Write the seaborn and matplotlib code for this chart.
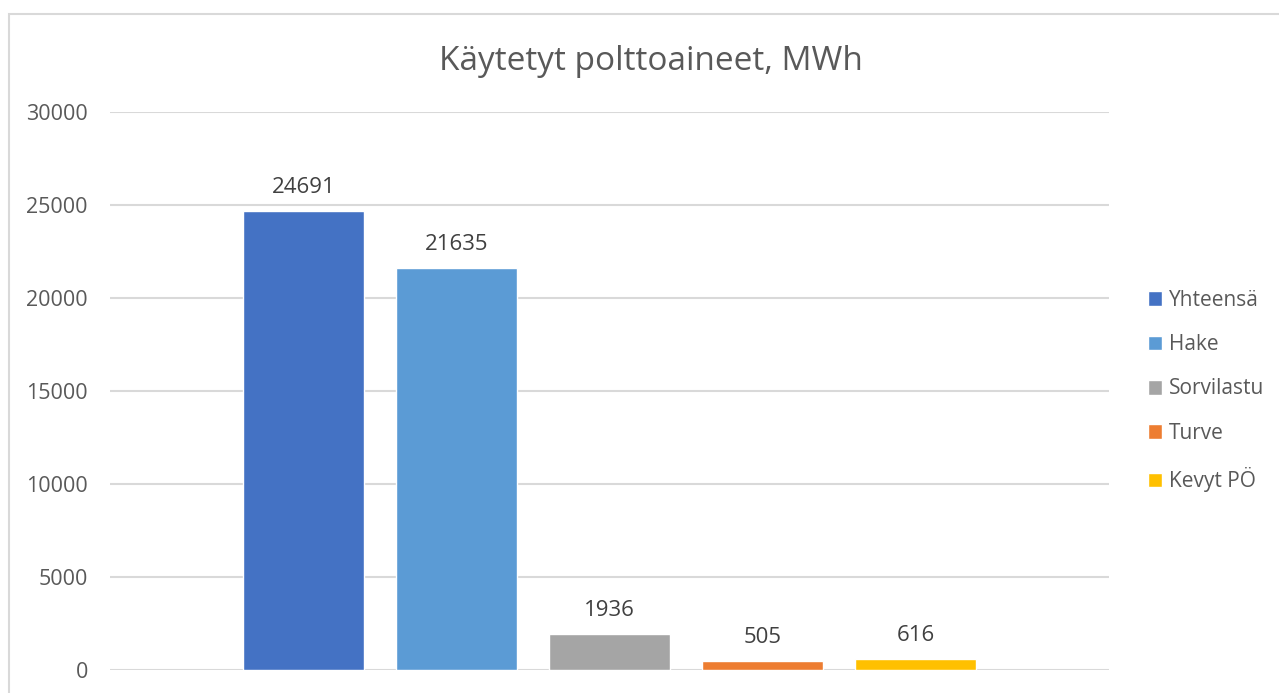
import pandas as pd
import matplotlib
matplotlib.use('Agg')
import matplotlib.pyplot as plt
import matplotlib.patches as mpatches
import seaborn as sns

category = ["Polttoaineet"]
series = ["Yhteensä", "Hake", "Sorvilastu", "Turve", "Kevyt PÖ"]
values = [24691, 21635, 1936, 505, 616]
colors = ["#4472C4", "#5B9BD5", "#A5A5A5", "#ED7D31", "#FFC000"]
yticks = [0, 5000, 10000, 15000, 20000, 25000, 30000]

df = pd.DataFrame({"cat": category * len(series), "series": series, "value": values})

sns.set_theme(style="white")
plt.rcParams['font.family'] = ['Open Sans', 'DejaVu Sans']

fig = plt.figure(figsize=(12.79, 6.93), dpi=100)
ax = fig.add_axes([110 / 1279, 23 / 693, 999 / 1279, 558 / 693])

sns.barplot(data=df, x="cat", y="value", hue="series", palette=colors,
            width=0.766, gap=0.21, ax=ax, saturation=1, legend=True)

for c in ax.containers:
    ax.bar_label(c, fmt="%d", padding=9, fontsize=16, color="#404040")

ax.set_xlim(-0.5, 0.5)
ax.set_ylim(0, 30000)
ax.set_yticks(yticks)
ax.set_yticklabels([str(t) for t in yticks], fontsize=15.5, color="#595959")
ax.tick_params(axis='y', length=0, pad=16)
ax.set_xticks([])
ax.set_xlabel("")
ax.set_ylabel("")
ax.grid(axis='y', color="#D9D9D9", linewidth=1.5)
ax.set_axisbelow(True)
for s in ax.spines.values():
    s.set_visible(False)

ax.set_title("Käytetyt polttoaineet, MWh", fontsize=24, color="#595959",
             pad=30, x=0.5415)

handles, labels = ax.get_legend_handles_labels()
ax.legend(handles, labels, loc="center left", bbox_to_anchor=(1.02, 0.5),
          frameon=False, fontsize=15, handlelength=0.7, handleheight=0.7,
          handletextpad=0.3, labelspacing=1.12, labelcolor="#595959")

fig.patches.append(mpatches.Rectangle((9 / 1279, -0.1), 1.2, 1 - 14 / 693 + 0.1,
                                      transform=fig.transFigure, fill=False,
                                      edgecolor="#D9D9D9", linewidth=1.5))

plt.savefig("out.png", dpi=100)
